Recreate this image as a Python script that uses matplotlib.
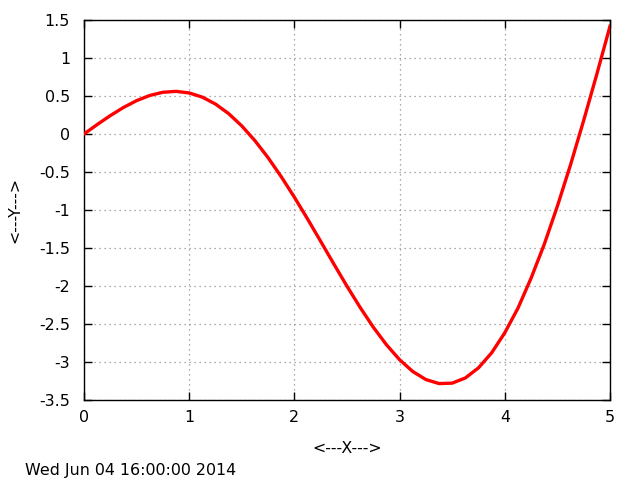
import matplotlib
matplotlib.use('Agg')
import matplotlib.pyplot as plt

# values
x_vals = [0.0, 0.125, 0.25, 0.375, 0.5, 0.625, 0.75, 0.875, 1.0, 1.125,
          1.25, 1.375, 1.5, 1.625, 1.75, 1.875, 2.0, 2.125, 2.25, 2.375,
          2.5, 2.625, 2.75, 2.875, 3.0, 3.125, 3.25, 3.375, 3.5, 3.625,
          3.75, 3.875, 4.0, 4.125, 4.25, 4.375, 4.5, 4.625, 4.75, 4.875, 5.0]
y_vals = [0.0, 0.124, 0.242, 0.349, 0.439, 0.507, 0.549, 0.561, 0.540, 0.485,
          0.394, 0.268, 0.106, -0.088, -0.312, -0.562, -0.832, -1.118, -1.413, -1.711,
          -2.003, -2.282, -2.542, -2.773, -2.970, -3.125, -3.231, -3.284, -3.278, -3.210,
          -3.077, -2.879, -2.615, -2.292, -1.896, -1.452, -0.949, -0.404, 0.179, 0.789, 1.418]

x_ticks = [0, 1, 2, 3, 4, 5]
y_ticks = [1.5, 1, 0.5, 0, -0.5, -1, -1.5, -2, -2.5, -3, -3.5]
y_tick_labels = ['1.5', '1', '0.5', '0', '-0.5', '-1', '-1.5', '-2', '-2.5', '-3', '-3.5']

plt.rcParams['axes.unicode_minus'] = False
plt.rcParams['font.family'] = 'DejaVu Sans'

fig = plt.figure(figsize=(6.4, 4.8), dpi=100)
ax = fig.add_axes([84/640, 1 - 400/480, (610 - 84)/640, (400 - 20)/480])

ax.plot(x_vals, y_vals, color='#ff0000', lw=2.4, zorder=3)

ax.set_xlim(0, 5)
ax.set_ylim(-3.5, 1.5)
ax.set_xticks(x_ticks)
ax.set_xticklabels([str(t) for t in x_ticks])
ax.set_yticks(y_ticks)
ax.set_yticklabels(y_tick_labels)

ax.tick_params(direction='in', length=6, width=1, top=True, right=True,
               labelsize=11.4, pad=7)
ax.tick_params(axis='y', pad=10)
ax.grid(True, color='#909090', linestyle=(0, (1, 3)), linewidth=0.9)
for s in ax.spines.values():
    s.set_linewidth(1.0)

ax.set_xlabel('<---X--->', fontsize=11.4, labelpad=12)
ax.set_ylabel('<---Y--->', fontsize=11.4, labelpad=12)

fig.text(25/640, 1 - 471/480, 'Wed Jun 04 16:00:00 2014', fontsize=11.4,
         ha='left', va='center')

fig.savefig('out.png', dpi=100)
